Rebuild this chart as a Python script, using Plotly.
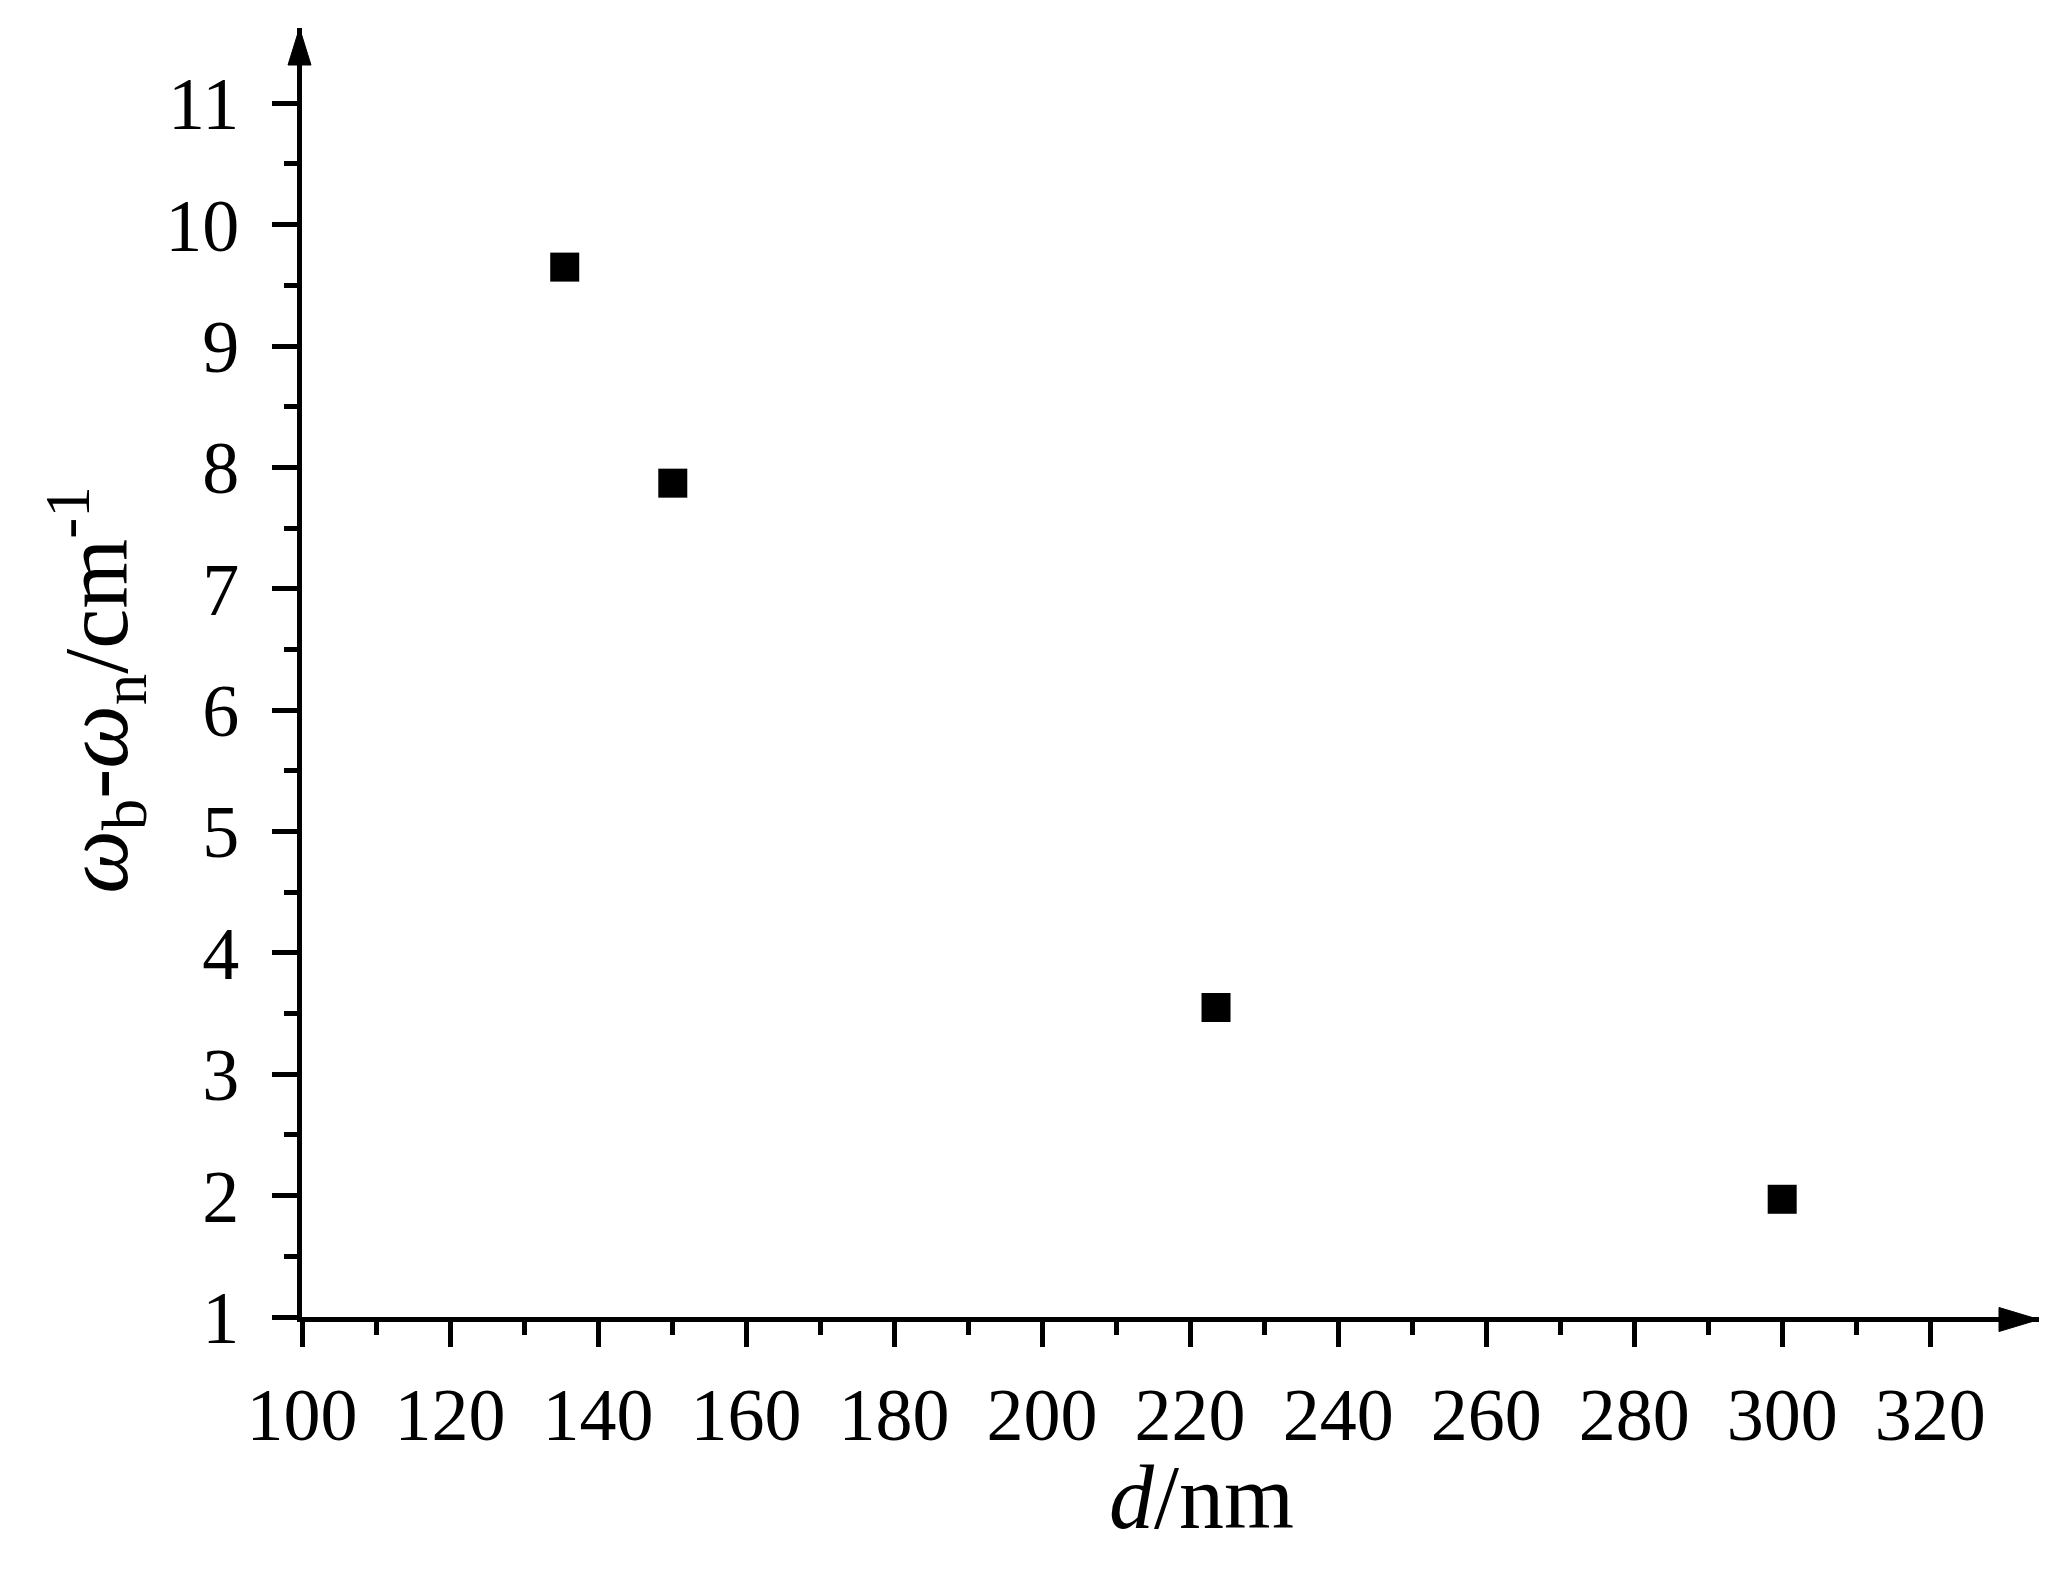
import plotly.graph_objects as go

# Data
d_nm = [135.5, 150.1, 223.5, 300.0]
delta_omega = [9.65, 7.87, 3.55, 1.97]

x_ticks = [100, 120, 140, 160, 180, 200, 220, 240, 260, 280, 300, 320]
x_minor = [110, 130, 150, 170, 190, 210, 230, 250, 270, 290, 310]
y_ticks = [1, 2, 3, 4, 5, 6, 7, 8, 9, 10, 11]
y_minor = [1.5, 2.5, 3.5, 4.5, 5.5, 6.5, 7.5, 8.5, 9.5, 10.5]

x_range = [100, 334.7]
y_range = [1, 11.62]

FONT = "Liberation Serif, Times New Roman, serif"
# page body has an 8px margin, so the figure is a bit smaller and shifted
W, H = 2055, 1569
L, R, T, B = 294, 24, 20, 260

fig = go.Figure()
fig.add_trace(go.Scatter(
    x=d_nm, y=delta_omega, mode="markers",
    marker=dict(symbol="square", size=29, color="black", line=dict(width=0)),
    showlegend=False,
))

axis_common = dict(
    showline=True, linecolor="black", linewidth=5,
    ticks="outside", ticklen=25, tickwidth=5, tickcolor="black",
    showgrid=False, zeroline=False,
    tickfont=dict(family=FONT, size=74, color="black"),
    tickmode="array",
)

fig.update_xaxes(
    range=x_range, tickvals=x_ticks, ticktext=[str(v) for v in x_ticks],
    minor=dict(tickmode="array", tickvals=x_minor, ticks="outside", ticklen=13,
               tickwidth=5, tickcolor="black", showgrid=False),
    ticklabelstandoff=4,
    **axis_common,
)
fig.update_yaxes(
    range=y_range, tickvals=y_ticks, ticktext=[str(v) for v in y_ticks],
    minor=dict(tickmode="array", tickvals=y_minor, ticks="outside", ticklen=13,
               tickwidth=5, tickcolor="black", showgrid=False),
    ticklabelstandoff=18,
    **axis_common,
)

# Arrowheads at the ends of the axes
fig.add_shape(type="path", xref="paper", yref="paper",
              xsizemode="pixel", ysizemode="pixel", xanchor=1, yanchor=0,
              path="M -40 -14.5 L -40 9.5 L 0 -2.5 Z",
              fillcolor="black", line=dict(color="black", width=1), layer="above")
fig.add_shape(type="path", xref="paper", yref="paper",
              xsizemode="pixel", ysizemode="pixel", xanchor=0, yanchor=1,
              path="M -14 -37 L 9 -37 L -2.5 0 Z",
              fillcolor="black", line=dict(color="black", width=1), layer="above")

# Axis titles
fig.add_annotation(
    text="<i>d</i>/nm", xref="paper", yref="paper", x=0.518, y=0,
    xanchor="center", yanchor="middle", yshift=-180, showarrow=False,
    font=dict(family=FONT, size=90, color="black"),
)
fig.add_annotation(
    text="<i>ω</i><sub>b</sub>-<i>ω</i><sub>n</sub>/cm<sup>-1</sup>",
    xref="paper", yref="paper", x=0, y=0.4866, xshift=-205,
    xanchor="center", yanchor="middle", textangle=-90, showarrow=False,
    font=dict(family=FONT, size=90, color="black"),
)

fig.update_layout(
    width=W, height=H,
    margin=dict(l=L, r=R, t=T, b=B, pad=0),
    plot_bgcolor="white", paper_bgcolor="white",
)

fig.write_html("out.html")
